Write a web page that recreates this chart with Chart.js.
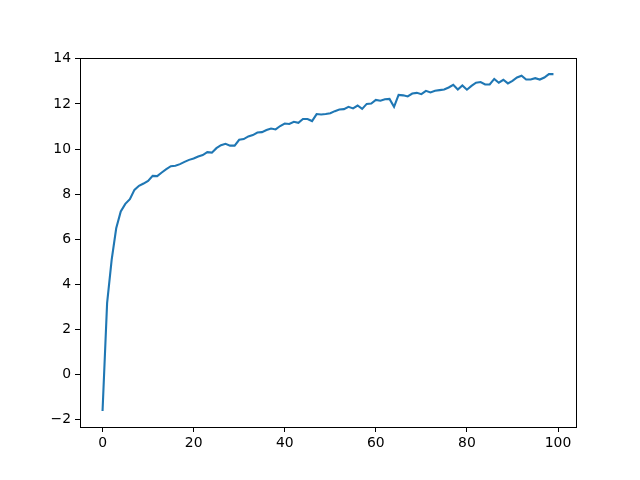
<!DOCTYPE html>
<html><head><meta charset="utf-8">
<script src="https://cdn.jsdelivr.net/npm/chart.js@4/dist/chart.umd.min.js"></script>
<style>html,body{margin:0;padding:0;background:#fff}canvas{display:block}</style>
</head><body>
<canvas id="c" width="640" height="480"></canvas>
<script>
const xValues = Array.from({length:100},(_,i)=>i);
const yValues = [
-1.61,3.17,5.09,6.49,7.23,7.57,7.78,8.19,8.37,8.47,
8.59,8.81,8.80,8.96,9.11,9.24,9.26,9.33,9.43,9.52,
9.58,9.67,9.73,9.86,9.84,10.04,10.17,10.23,10.15,10.15,
10.41,10.44,10.56,10.62,10.73,10.75,10.84,10.91,10.87,11.02,
11.13,11.11,11.21,11.16,11.33,11.33,11.24,11.55,11.53,11.55,
11.59,11.68,11.75,11.77,11.87,11.80,11.93,11.78,12.00,12.02,
12.18,12.14,12.21,12.22,11.87,12.40,12.38,12.33,12.46,12.49,
12.43,12.58,12.51,12.58,12.61,12.64,12.73,12.85,12.64,12.82,
12.63,12.80,12.94,12.97,12.86,12.86,13.11,12.94,13.07,12.91,
13.02,13.17,13.25,13.08,13.08,13.14,13.08,13.17,13.32,13.32];
const xTicks = [0,20,40,60,80,100];
const yTicks = [-2,0,2,4,6,8,10,12,14];

const boxPlugin = {
  id:'box',
  afterDraw(chart){
    const a = chart.chartArea, ctx = chart.ctx;
    ctx.save();
    ctx.strokeStyle = '#000'; ctx.lineWidth = 1;
    ctx.strokeRect(Math.round(a.left)+0.5, Math.round(a.top)+0.5, Math.round(a.right-a.left), Math.round(a.bottom-a.top));
    ctx.restore();
  }
};
const font = {family:'DejaVu Sans', size:13.9};
new Chart(document.getElementById('c'), {
  type:'line',
  data:{ datasets:[{ data: xValues.map((x,i)=>({x:x,y:yValues[i]})), borderColor:'#1f77b4', borderWidth:2.1, pointRadius:0, tension:0, fill:false }]},
  options:{
    responsive:false, animation:false,
    layout:{padding:{left:0,top:58,right:64,bottom:0}},
    plugins:{legend:{display:false}, tooltip:{enabled:false}},
    scales:{
      x:{ type:'linear', min:-4.95, max:103.95,
        afterBuildTicks(s){ s.ticks = xTicks.map(v=>({value:v})); },
        afterFit(s){ s.height = 53; },
        grid:{ drawOnChartArea:false, drawTicks:true, tickLength:5, color:'#000' },
        border:{ display:true, color:'#000' },
        ticks:{ color:'#000', font, padding:3, maxRotation:0, callback:v=>String(v).replace('-','\u2212') } },
      y:{ type:'linear', min:-2.32, max:14.035,
        afterBuildTicks(s){ s.ticks = yTicks.map(v=>({value:v})); },
        afterFit(s){ s.width = 80; },
        grid:{ drawOnChartArea:false, drawTicks:true, tickLength:5, color:'#000' },
        border:{ display:true, color:'#000' },
        ticks:{ color:'#000', font, padding:4, callback:v=>String(v).replace('-','\u2212') } }
    }
  },
  plugins:[boxPlugin]
});
</script>
</body></html>
